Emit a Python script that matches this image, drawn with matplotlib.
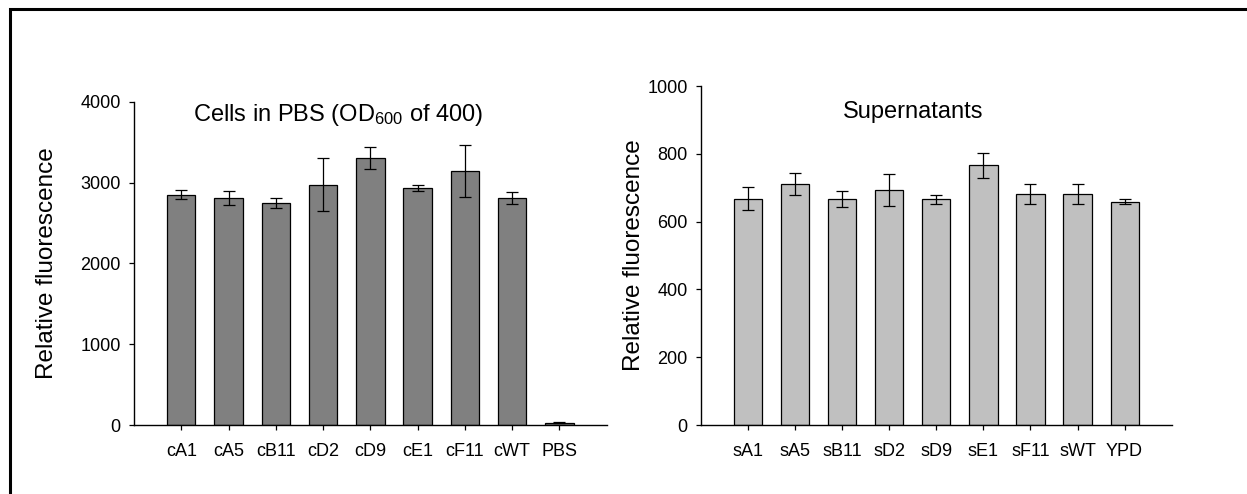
import matplotlib
matplotlib.use("Agg")
import matplotlib.pyplot as plt
from matplotlib.patches import Rectangle
import numpy as np

plt.rcParams['font.family'] = ['Liberation Sans', 'DejaVu Sans']
plt.rcParams['mathtext.default'] = 'regular'

# Cells resuspended in PBS
cell_labels = ["cA1", "cA5", "cB11", "cD2", "cD9", "cE1", "cF11", "cWT", "PBS"]
cell_means = [2850, 2810, 2745, 2975, 3300, 2935, 3140, 2810, 30]
cell_errs = [55, 90, 60, 330, 135, 40, 320, 75, 4]

# Culture supernatants
sup_labels = ["sA1", "sA5", "sB11", "sD2", "sD9", "sE1", "sF11", "sWT", "YPD"]
sup_means = [668, 710, 666, 692, 666, 766, 682, 682, 659]
sup_errs = [35, 33, 23, 47, 13, 37, 29, 29, 7]

W, H = 1247, 494
fig = plt.figure(figsize=(W / 100, H / 100), dpi=100)

# outer frame (top and left edges visible)
fig.add_artist(Rectangle((10 / W, -0.2), 1.5, 1 - 9 / H + 0.2,
                         transform=fig.transFigure, fill=False,
                         edgecolor='black', linewidth=2.2))

ax1 = fig.add_axes([134 / W, 1 - 425 / H, 472.7 / W, 323.3 / H])
ax2 = fig.add_axes([701 / W, 1 - 425 / H, 470.7 / W, 339 / H])


def draw_panel(ax, labels, means, errs, color, ymax, step, label_x):
    x = np.arange(len(labels))
    ax.bar(x, means, width=0.6, color=color, edgecolor='black', linewidth=0.9,
           yerr=errs, capsize=4, error_kw=dict(ecolor='black', elinewidth=0.9,
                                               capthick=0.9), zorder=2)
    ax.set_xlim(-1, len(labels))
    ax.set_ylim(0, ymax)
    ax.set_xticks(x)
    ax.set_xticklabels(labels)
    ax.set_yticks(np.arange(0, ymax + 1, step))
    for s in ('top', 'right'):
        ax.spines[s].set_visible(False)
    for s in ('left', 'bottom'):
        ax.spines[s].set_linewidth(1.0)
    ax.tick_params(axis='both', direction='out', length=3.6, width=0.9,
                   labelsize=13)
    ax.tick_params(axis='x', pad=9.5)
    ax.tick_params(axis='y', pad=6)
    ax.set_ylabel("Relative fluorescence", fontsize=17.5)
    ax.yaxis.set_label_coords(label_x, 0.5)


draw_panel(ax1, cell_labels, cell_means, cell_errs, '#808080', 4000, 1000, -0.16)
draw_panel(ax2, sup_labels, sup_means, sup_errs, '#c0c0c0', 1000, 200, -0.12)

fig.text(193 / W, 1 - 121 / H, "Cells in PBS (OD$_{600}$ of 400)", fontsize=17,
         ha='left', va='baseline')
fig.text(913 / W, 1 - 118 / H, "Supernatants", fontsize=17,
         ha='center', va='baseline')

fig.savefig("out.png", dpi=100)
